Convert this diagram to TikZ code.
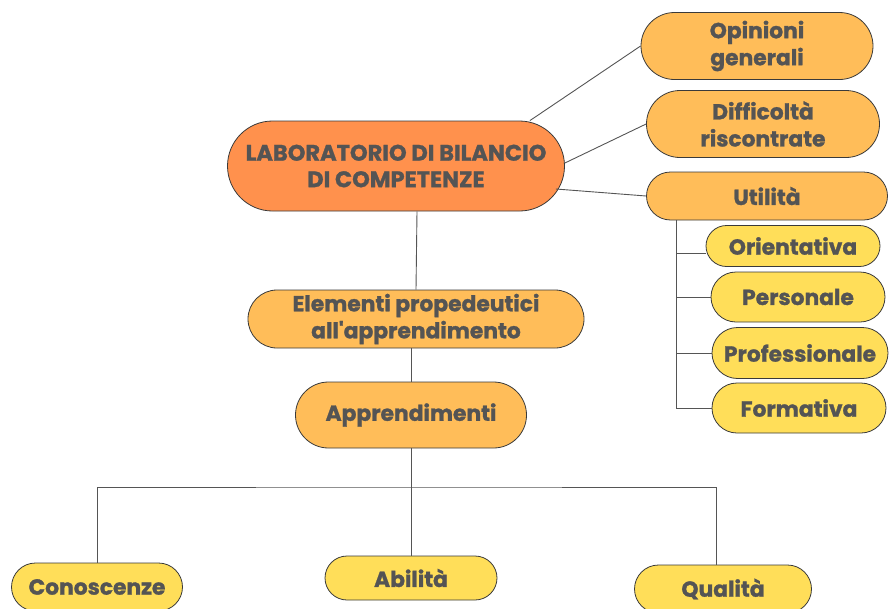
\documentclass[tikz,border=0pt]{standalone}
\usepackage{fontspec}
\setmainfont{Poppins}[Ligatures=TeXOff,BoldFeatures={FakeBold=1.2}]
\definecolor{bordc}{HTML}{3A3A3A}
\definecolor{linec}{HTML}{555555}
\definecolor{textc}{HTML}{545454}
\definecolor{mainc}{HTML}{FF914D}
\definecolor{lightc}{HTML}{FFBD59}
\definecolor{yellc}{HTML}{FFDE59}
\begin{document}
\begin{tikzpicture}[x=1pt,y=-1pt,
  pill/.style n args={3}{draw=bordc, line width=0.8pt, fill=#3,
    minimum width=#1, minimum height=#2, rounded corners=#2/2,
    inner sep=0pt, align=center, text=textc,
    font=\bfseries\fontsize{21.8}{27}\selectfont},
  big/.style={font=\bfseries\fontsize{22.5}{26.5}\selectfont},
  conn/.style={draw=linec, line width=0.9pt}]
\useasboundingbox (0,0) rectangle (889,608);
% nodes
\node[pill={337pt}{90pt}{mainc}, big] (lab) at (396,166) {LABORATORIO DI BILANCIO\\DI COMPETENZE};
\node[pill={232pt}{67pt}{lightc}] (opi) at (757,46) {Opinioni\\generali};
\node[pill={233pt}{67pt}{lightc}] (dif) at (763,124) {Difficoltà\\riscontrate};
\node[pill={241pt}{48pt}{lightc}] (uti) at (767,196) {Utilità};
\node[pill={174pt}{41pt}{yellc}] (ori) at (793,246) {Orientativa};
\node[pill={174pt}{50pt}{yellc}] (per) at (798,297) {Personale};
\node[pill={176pt}{51pt}{yellc}] (pro) at (800,353) {Professionale};
\node[pill={174pt}{50pt}{yellc}] (for) at (799,408) {Formativa};
\node[pill={336pt}{58pt}{lightc}] (ele) at (416,319) {Elementi propedeutici\\all'apprendimento};
\node[pill={231pt}{66pt}{lightc}] (app) at (411,415) {Apprendimenti};
\node[pill={171pt}{48pt}{yellc}] (con) at (97,587) {Conoscenze};
\node[pill={172pt}{44pt}{yellc}] (abi) at (411,578) {Abilità};
\node[pill={177pt}{48pt}{yellc}] (qua) at (723,589) {Qualità};
% connector anchors
\coordinate (ut0) at (676,220);
\coordinate (hb) at (411,487);
\coordinate (oriw) at ([yshift=-7pt]ori.west);
\coordinate (quat) at ([xshift=-7pt]qua.north);
% connectors
\draw[conn] ([xshift=-35pt]lab.north east) -- (opi.west);
\draw[conn] ([yshift=3pt]lab.east) -- (dif.west);
\draw[conn] ([xshift=-9pt,yshift=-23pt]lab.east) -- (uti.west);
\draw[conn] ([xshift=21pt]lab.south) -- (ele.north);
\draw[conn] ([xshift=-5pt]ele.south) -- (app.north);
\draw[conn] (ut0) |- (for.west);
\draw[conn] (ut0 |- oriw) -- (oriw);
\draw[conn] (ut0 |- per.west) -- (per.west);
\draw[conn] (ut0 |- pro.west) -- (pro.west);
\draw[conn] (app.south) -- (abi.north);
\draw[conn] (con.north) |- (hb) -| (quat);
\end{tikzpicture}
\end{document}
